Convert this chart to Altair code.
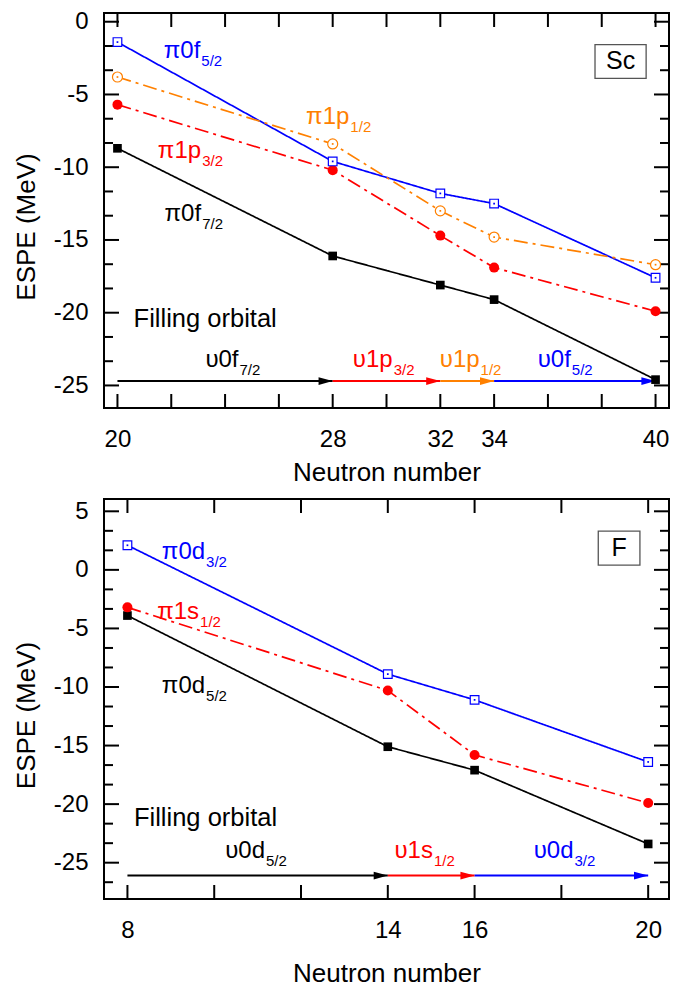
import altair as alt
import pandas as pd

FONT = "Liberation Sans"
BLUE = "#0000FF"
RED = "#FF0000"
ORANGE = "#FF8000"
BLACK = "#000000"

# ---------------- Sc panel data ----------------
sc_n = [20, 28, 32, 34, 40]
sc_pi0f72 = [-8.7, -16.1, -18.1, -19.1, -24.6]
sc_pi0f52 = [-1.4, -9.6, -11.8, -12.5, -17.6]
sc_pi1p32 = [-5.7, -10.2, -14.7, -16.9, -19.9]
sc_pi1p12 = [-3.8, -8.4, -13.0, -14.8, -16.7]
sc_series = ["pi0f7/2", "pi0f5/2", "pi1p3/2", "pi1p1/2"]
sc_colors = [BLACK, BLUE, RED, ORANGE]
sc_dash = ["solid", "solid", "dashdot", "dashdot"]
sc_shape = ["square", "square", "circle", "circle"]
sc_filled = [True, False, True, False]

sc_xdomain = [19.5, 40.5]
sc_ydomain = [-26.55, 0.6]
sc_xticks = [20, 22, 24, 26, 28, 30, 32, 34, 36, 38, 40]
sc_xlabels = [20, 28, 32, 34, 40]
sc_ylabels = [-25, -20, -15, -10, -5, 0]

sc_lab_main = ["π0f", "π1p", "π1p", "π0f"]
sc_lab_sub = ["5/2", "1/2", "3/2", "7/2"]
sc_lab_x = [23.08, 28.62, 23.11, 23.11]
sc_lab_y = [-2.52, -7.0, -9.34, -13.7]
sc_lab_color = [BLUE, ORANGE, RED, BLACK]

sc_arrow_start = [20, 28, 32, 34]
sc_arrow_end = [28, 32, 34, 40]
sc_arrow_color = [BLACK, RED, ORANGE, BLUE]
sc_arrow_y = -24.7
sc_arrow_main = ["υ0f", "υ1p", "υ1p", "υ0f"]
sc_arrow_sub = ["7/2", "3/2", "1/2", "5/2"]
sc_arrow_lab_x = [24.5, 30.23, 33.46, 36.85]
sc_arrow_lab_y = -23.7

sc_fill_text = ["Filling orbital"]
sc_fill_xy = [20.6, -21.0]
sc_box_text = ["Sc"]
sc_box = [37.75, 39.65, -3.89, -1.57]

# ---------------- F panel data ----------------
f_n = [8, 14, 16, 20]
f_pi0d52 = [-3.9, -15.1, -17.1, -23.4]
f_pi0d32 = [2.1, -8.9, -11.1, -16.4]
f_pi1s12 = [-3.2, -10.3, -15.8, -19.9]
f_series = ["pi0d5/2", "pi0d3/2", "pi1s1/2"]
f_colors = [BLACK, BLUE, RED]
f_dash = ["solid", "solid", "dashdot"]
f_shape = ["square", "square", "circle"]
f_filled = [True, False, True]

f_xdomain = [7.46, 20.48]
f_ydomain = [-28.1, 6.05]
f_xticks = [8, 10, 12, 14, 16, 18, 20]
f_xlabels = [8, 14, 16, 20]
f_ylabels = [-25, -20, -15, -10, -5, 0, 5]

f_lab_main = ["π0d", "π1s", "π0d"]
f_lab_sub = ["3/2", "1/2", "5/2"]
f_lab_x = [9.79, 9.65, 9.79]
f_lab_y = [0.91, -4.23, -10.5]
f_lab_color = [BLUE, RED, BLACK]

f_arrow_start = [8, 14, 16]
f_arrow_end = [14, 16, 20]
f_arrow_color = [BLACK, RED, BLUE]
f_arrow_y = -26.1
f_arrow_main = ["υ0d", "υ1s", "υ0d"]
f_arrow_sub = ["5/2", "1/2", "3/2"]
f_arrow_lab_x = [11.17, 15.04, 18.28]
f_arrow_lab_y = -24.6

f_fill_text = ["Filling orbital"]
f_fill_xy = [8.15, -21.9]
f_box_text = ["F"]
f_box = [18.85, 19.81, 0.40, 3.31]

W = 565


def minor_values(lo, hi, step=5.0 / 3.0):
    vals = []
    k = int(lo // step) - 1
    while k * step <= hi + 1e-9:
        v = round(k * step, 6)
        if lo <= v <= hi and k % 3 != 0:
            vals.append(v)
        k += 1
    return vals


def make_panel(H, title_pad, n, values, names, colors, dashes, shapes, filled, xdom, ydom,
               xticks, xlabels, ylabels, lab_main, lab_sub, lab_x, lab_y, lab_color,
               a_start, a_end, a_color, a_y, a_main, a_sub, a_lab_x, a_lab_y,
               fill_text, fill_xy, box_text, box):
    xs = alt.Scale(domain=xdom, nice=False, zero=False)
    ys = alt.Scale(domain=ydom, nice=False, zero=False)

    xaxis = alt.Axis(values=xlabels, ticks=False, tickSize=0, domain=False, grid=False,
                     labelFont=FONT, labelFontSize=24, labelColor="black", labelPadding=19,
                     labelFlush=False, title="Neutron number", titleFont=FONT,
                     titleFontSize=26, titleFontWeight="normal", titleColor="black",
                     titlePadding=title_pad)
    yaxis = alt.Axis(values=ylabels, ticks=False, tickSize=0, domain=False, grid=False,
                     labelFont=FONT, labelFontSize=24, labelColor="black", labelPadding=16,
                     labelExpr="'' + datum.value", labelFlush=False,
                     title="ESPE (MeV)", titleFont=FONT, titleFontSize=26,
                     titleFontWeight="normal", titleColor="black", titlePadding=14,
                     titleY=H / 2 + 16)

    def X(f):
        return alt.X(f, scale=xs, axis=xaxis)

    def Y(f):
        return alt.Y(f, scale=ys, axis=yaxis)

    rows = []
    for name, vals, col, dsh, shp, fl in zip(names, values, colors, dashes, shapes, filled):
        for xv, yv in zip(n, vals):
            rows.append({"n": xv, "e": yv, "series": name, "color": col, "dash": dsh,
                         "shape": shp, "filled": fl,
                         "size": 75 if shp == "square" else 100})
    df = pd.DataFrame(rows)

    lines = alt.Chart(df).mark_line(strokeWidth=1.7).encode(
        x=X("n:Q"), y=Y("e:Q"),
        color=alt.Color("color:N", scale=None),
        strokeDash=alt.StrokeDash("dash:N", scale=alt.Scale(domain=["solid", "dashdot"],
                                                            range=[[1, 0], [14, 5, 3, 5]]),
                                  legend=None),
        detail="series:N",
    )

    pts_filled = alt.Chart(df).transform_filter("datum.filled").mark_point(
        filled=True, opacity=1).encode(
        x=X("n:Q"), y=Y("e:Q"),
        shape=alt.Shape("shape:N", scale=None),
        size=alt.Size("size:Q", scale=None),
        color=alt.Color("color:N", scale=None),
    )
    pts_open = alt.Chart(df).transform_filter("!datum.filled").mark_point(
        filled=False, fill="white", fillOpacity=1, opacity=1, strokeWidth=1.2).encode(
        x=X("n:Q"), y=Y("e:Q"),
        shape=alt.Shape("shape:N", scale=None),
        size=alt.Size("size:Q", scale=None),
        color=alt.Color("color:N", scale=None),
    )
    pts_dot = alt.Chart(df).transform_filter("!datum.filled").mark_point(
        filled=True, opacity=1, size=3, shape="square").encode(
        x=X("n:Q"), y=Y("e:Q"),
        color=alt.Color("color:N", scale=None),
    )

    # inward ticks
    ymaj = pd.DataFrame({"v": [v for v in range(-30, 10, 5) if ydom[0] <= v <= ydom[1]]})
    ymin = pd.DataFrame({"v": minor_values(ydom[0], ydom[1])})
    xt = pd.DataFrame({"v": xticks})
    tick_layers = []
    for dfv, ln in ((ymaj, 15), (ymin, 9)):
        tick_layers.append(alt.Chart(dfv).mark_rule(color="black", strokeWidth=2).encode(
            y=Y("v:Q"), x=alt.value(0), x2=alt.value(ln)))
        tick_layers.append(alt.Chart(dfv).mark_rule(color="black", strokeWidth=2).encode(
            y=Y("v:Q"), x=alt.value(W), x2=alt.value(W - ln)))
    tick_layers.append(alt.Chart(xt).mark_rule(color="black", strokeWidth=2).encode(
        x=X("v:Q"), y=alt.value(H), y2=alt.value(H - 14)))
    tick_layers.append(alt.Chart(xt).mark_rule(color="black", strokeWidth=2).encode(
        x=X("v:Q"), y=alt.value(0), y2=alt.value(14)))

    # curve labels
    ldf = pd.DataFrame({"x": lab_x, "y": lab_y, "main": lab_main, "sub": lab_sub,
                        "color": lab_color})
    lab_main_l = alt.Chart(ldf).mark_text(align="right", baseline="alphabetic", font=FONT,
                                          fontSize=24).encode(
        x=X("x:Q"), y=Y("y:Q"), text="main:N", color=alt.Color("color:N", scale=None))
    lab_sub_l = alt.Chart(ldf).mark_text(align="left", baseline="alphabetic", font=FONT,
                                         fontSize=15, dx=1, dy=8).encode(
        x=X("x:Q"), y=Y("y:Q"), text="sub:N", color=alt.Color("color:N", scale=None))

    # filling arrows
    adf = pd.DataFrame({"s": a_start, "e": a_end, "y": [a_y] * len(a_start),
                        "color": a_color, "main": a_main, "sub": a_sub,
                        "lx": a_lab_x, "ly": [a_lab_y] * len(a_start)})
    arrow_rule = alt.Chart(adf).mark_rule(strokeWidth=2).encode(
        x=X("s:Q"), x2="e:Q", y=Y("y:Q"), color=alt.Color("color:N", scale=None))
    arrow_head = alt.Chart(adf).mark_point(shape="M0,0L-2,-0.55L-2,0.55Z", filled=True,
                                           size=200, opacity=1, strokeWidth=0).encode(
        x=X("e:Q"), y=Y("y:Q"), color=alt.Color("color:N", scale=None))
    a_main_l = alt.Chart(adf).mark_text(align="right", baseline="alphabetic", font=FONT,
                                        fontSize=24).encode(
        x=X("lx:Q"), y=Y("ly:Q"), text="main:N", color=alt.Color("color:N", scale=None))
    a_sub_l = alt.Chart(adf).mark_text(align="left", baseline="alphabetic", font=FONT,
                                       fontSize=15, dx=1, dy=8).encode(
        x=X("lx:Q"), y=Y("ly:Q"), text="sub:N", color=alt.Color("color:N", scale=None))

    fdf = pd.DataFrame({"x": [fill_xy[0]], "y": [fill_xy[1]], "t": fill_text})
    fill_l = alt.Chart(fdf).mark_text(align="left", baseline="alphabetic", font=FONT,
                                      fontSize=25.5, color="black").encode(
        x=X("x:Q"), y=Y("y:Q"), text="t:N")

    bdf = pd.DataFrame({"x": [box[0]], "x2": [box[1]], "y": [box[2]], "y2": [box[3]],
                        "cx": [(box[0] + box[1]) / 2], "cy": [(box[2] + box[3]) / 2],
                        "t": box_text})
    box_r = alt.Chart(bdf).mark_rect(fill="white", stroke="#555555", strokeWidth=1.3).encode(
        x=X("x:Q"), x2="x2:Q", y=Y("y:Q"), y2="y2:Q")
    box_t = alt.Chart(bdf).mark_text(align="center", baseline="middle", font=FONT,
                                     fontSize=25, color="black").encode(
        x=X("cx:Q"), y=Y("cy:Q"), text="t:N")

    return alt.layer(lines, *tick_layers, arrow_rule, arrow_head, pts_filled, pts_open,
                     pts_dot, lab_main_l, lab_sub_l, a_main_l, a_sub_l, fill_l, box_r,
                     box_t).properties(width=W, height=H)


top = make_panel(395, 8, sc_n, [sc_pi0f72, sc_pi0f52, sc_pi1p32, sc_pi1p12], sc_series,
                 sc_colors, sc_dash, sc_shape, sc_filled, sc_xdomain, sc_ydomain,
                 sc_xticks, sc_xlabels, sc_ylabels, sc_lab_main, sc_lab_sub, sc_lab_x,
                 sc_lab_y, sc_lab_color, sc_arrow_start, sc_arrow_end, sc_arrow_color,
                 sc_arrow_y, sc_arrow_main, sc_arrow_sub, sc_arrow_lab_x, sc_arrow_lab_y,
                 sc_fill_text, sc_fill_xy, sc_box_text, sc_box)

bottom = make_panel(400, 18, f_n, [f_pi0d52, f_pi0d32, f_pi1s12], f_series, f_colors,
                    f_dash, f_shape, f_filled, f_xdomain, f_ydomain, f_xticks, f_xlabels,
                    f_ylabels, f_lab_main, f_lab_sub, f_lab_x, f_lab_y, f_lab_color,
                    f_arrow_start, f_arrow_end, f_arrow_color, f_arrow_y, f_arrow_main,
                    f_arrow_sub, f_arrow_lab_x, f_arrow_lab_y, f_fill_text, f_fill_xy,
                    f_box_text, f_box)

chart = alt.vconcat(top, bottom, spacing=11).configure_view(
    stroke="black", strokeWidth=2).properties(
    padding={"left": 4, "top": 0, "right": 5, "bottom": 0}, background="white")

chart.save("out.html", embed_options={"renderer": "svg", "actions": False})
